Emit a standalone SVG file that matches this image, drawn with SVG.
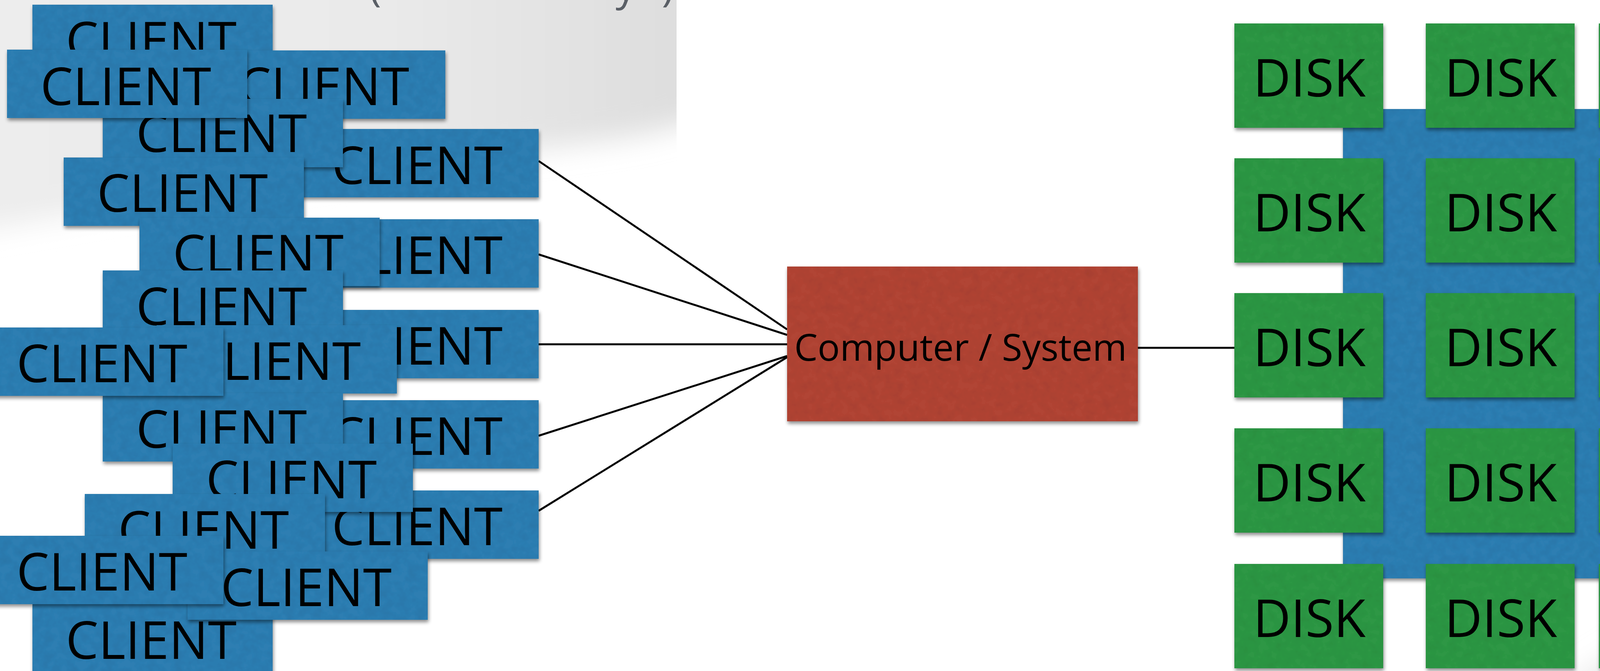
<svg xmlns="http://www.w3.org/2000/svg" width="5007" height="1717" viewBox="0 0 5007 1717">
  <defs>
    <style>
      .client { fill: #2e7eb2; }
      .disk { fill: #2e9744; }
      .cpu { fill: #b14535; }
      .panel { fill: #2e7eb2; }
      .lbl { font-family: "Open Sans", "Noto Sans", "DejaVu Sans", sans-serif; font-size: 133px; fill: #000; text-anchor: middle; }
      .cpulbl { font-family: "Open Sans", "Noto Sans", "DejaVu Sans", sans-serif; font-size: 95px; fill: #000; text-anchor: middle; }
      .title { font-family: "Open Sans", "Noto Sans", "DejaVu Sans", sans-serif; font-size: 105px; fill: #5a5f66; }
      .conn { stroke: #000; stroke-width: 5; fill: none; }
    </style>
    <filter id="card" x="-5%" y="-8%" width="112%" height="125%">
      <feTurbulence type="fractalNoise" baseFrequency="0.045" numOctaves="3" seed="7" result="noise"/>
      <feColorMatrix in="noise" type="matrix" values="0 0 0 0 0  0 0 0 0 0  0 0 0 0 0  0.22 0 0 0 -0.08" result="dark"/>
      <feComposite in="dark" in2="SourceAlpha" operator="in" result="tex"/>
      <feGaussianBlur in="SourceAlpha" stdDeviation="5" result="b"/>
      <feOffset in="b" dx="2" dy="6" result="ob"/>
      <feComponentTransfer in="ob" result="shadow"><feFuncA type="linear" slope="0.45"/></feComponentTransfer>
      <feMerge>
        <feMergeNode in="shadow"/>
        <feMergeNode in="SourceGraphic"/>
        <feMergeNode in="tex"/>
      </feMerge>
    </filter>
    <filter id="blurBig" x="-20%" y="-20%" width="140%" height="140%">
      <feGaussianBlur stdDeviation="35"/>
    </filter>
    <filter id="blurMid" x="-20%" y="-20%" width="140%" height="140%">
      <feGaussianBlur stdDeviation="18"/>
    </filter>
    <linearGradient id="tlGrad" x1="0" y1="0" x2="1" y2="0">
      <stop offset="0" stop-color="#ededed"/>
      <stop offset="0.55" stop-color="#eaeaea"/>
      <stop offset="1" stop-color="#dcdcdc"/>
    </linearGradient>
    <clipPath id="tlClip">
      <rect x="0" y="0" width="1732" height="1717"/>
    </clipPath>
  </defs>

  <rect x="0" y="0" width="5007" height="1717" fill="#ffffff"/>

  <!-- background shading -->
  <g id="background">
    <g clip-path="url(#tlClip)">
      <path d="M-100,-100 H1850 V200 C1850,330 1650,350 1350,385 C950,430 450,500 -100,600 Z" fill="url(#tlGrad)" filter="url(#blurBig)"/>
    </g>
    <path d="M5150,880 L4964,1040 C4800,1200 4650,1330 4470,1460 C4300,1580 4150,1660 3980,1780 L5150,1780 Z" fill="#e7e7e7" filter="url(#blurBig)"/>
    <path d="M4440,1760 L5060,1250" stroke="#d3d3d3" stroke-width="55" fill="none" filter="url(#blurMid)"/>
  </g>

  <g id="title-fragment">
    <text class="title" x="945" y="2">(</text>
    <text class="title" x="1576" y="2">y</text>
    <text class="title" x="1694" y="2">)</text>
  </g>

  <!-- connectors -->
  <g id="connectors">
    <line class="conn" x1="1379" y1="412" x2="2015" y2="843"/>
    <line class="conn" x1="1379" y1="651" x2="2015" y2="857"/>
    <line class="conn" x1="1379" y1="881" x2="2015" y2="881"/>
    <line class="conn" x1="1379" y1="1115" x2="2015" y2="911"/>
    <line class="conn" x1="1379" y1="1307" x2="2015" y2="914"/>
    <line class="conn" x1="2913" y1="890" x2="3160" y2="890"/>
  </g>

  <!-- clients (drawn back to front) -->
  <g id="client-01"><rect class="client" x="83" y="12" width="615" height="175" filter="url(#card)"/><text class="lbl" x="387" y="152">CLIENT</text></g>
  <g id="client-03"><rect class="client" x="525" y="129" width="615" height="175" filter="url(#card)"/><text class="lbl" x="829" y="269">CLIENT</text></g>
  <g id="client-05"><rect class="client" x="764" y="330" width="615" height="175" filter="url(#card)"/><text class="lbl" x="1068" y="471">CLIENT</text></g>
  <g id="client-04"><rect class="client" x="263" y="253" width="615" height="175" filter="url(#card)"/><text class="lbl" x="567" y="389">CLIENT</text></g>
  <g id="client-02"><rect class="client" x="18" y="127" width="615" height="175" filter="url(#card)"/><text class="lbl" x="322" y="269">CLIENT</text></g>
  <g id="client-06"><rect class="client" x="163" y="403" width="615" height="175" filter="url(#card)"/><text class="lbl" x="467" y="542">CLIENT</text></g>
  <g id="client-08"><rect class="client" x="764" y="561" width="615" height="175" filter="url(#card)"/><text class="lbl" x="1068" y="701">CLIENT</text></g>
  <g id="client-07"><rect class="client" x="357" y="557" width="615" height="175" filter="url(#card)"/><text class="lbl" x="661" y="697">CLIENT</text></g>
  <g id="client-10"><rect class="client" x="764" y="793" width="615" height="175" filter="url(#card)"/><text class="lbl" x="1068" y="933">CLIENT</text></g>
  <g id="client-09"><rect class="client" x="263" y="692" width="615" height="175" filter="url(#card)"/><text class="lbl" x="567" y="832">CLIENT</text></g>
  <g id="client-11"><rect class="client" x="401" y="832" width="615" height="175" filter="url(#card)"/><text class="lbl" x="705" y="972">CLIENT</text></g>
  <g id="client-14"><rect class="client" x="764" y="1024" width="615" height="175" filter="url(#card)"/><text class="lbl" x="1068" y="1164">CLIENT</text></g>
  <g id="client-13"><rect class="client" x="263" y="1006" width="615" height="175" filter="url(#card)"/><text class="lbl" x="567" y="1146">CLIENT</text></g>
  <g id="client-12"><rect class="client" x="-43" y="838" width="615" height="175" filter="url(#card)"/><text class="lbl" x="261" y="978">CLIENT</text></g>
  <g id="client-16"><rect class="client" x="764" y="1255" width="615" height="175" filter="url(#card)"/><text class="lbl" x="1068" y="1395">CLIENT</text></g>
  <g id="client-15"><rect class="client" x="442" y="1135" width="615" height="175" filter="url(#card)"/><text class="lbl" x="746" y="1275">CLIENT</text></g>
  <g id="client-17"><rect class="client" x="217" y="1264" width="615" height="175" filter="url(#card)"/><text class="lbl" x="521" y="1404">CLIENT</text></g>
  <g id="client-20"><rect class="client" x="83" y="1546" width="615" height="175" filter="url(#card)"/><text class="lbl" x="387" y="1686">CLIENT</text></g>
  <g id="client-19"><rect class="client" x="480" y="1411" width="615" height="175" filter="url(#card)"/><text class="lbl" x="784" y="1551">CLIENT</text></g>
  <g id="client-18"><rect class="client" x="-43" y="1371" width="615" height="175" filter="url(#card)"/><text class="lbl" x="261" y="1511">CLIENT</text></g>

  <!-- computer -->
  <g id="computer"><rect class="cpu" x="2015" y="682" width="898" height="396" filter="url(#card)"/><text class="cpulbl" x="2459" y="923">Computer / System</text></g>

  <!-- disk backplane -->
  <g id="disk-panel"><rect class="panel" x="3438" y="279" width="1201" height="1201" filter="url(#card)"/></g>

  <!-- disks -->
  <g id="disk-r1c1"><rect class="disk" x="3160" y="60" width="381" height="267" filter="url(#card)"/><text class="lbl" x="3352" y="247">DISK</text></g>
  <g id="disk-r1c2"><rect class="disk" x="3650" y="60" width="381" height="267" filter="url(#card)"/><text class="lbl" x="3842" y="247">DISK</text></g>
  <g id="disk-r1c3"><rect class="disk" x="4093" y="60" width="381" height="267" filter="url(#card)"/><text class="lbl" x="4285" y="247">DISK</text></g>
  <g id="disk-r1c4"><rect class="disk" x="4584" y="60" width="381" height="267" filter="url(#card)"/><text class="lbl" x="4776" y="247">DISK</text></g>

  <g id="disk-r2c1"><rect class="disk" x="3160" y="405" width="381" height="267" filter="url(#card)"/><text class="lbl" x="3352" y="592">DISK</text></g>
  <g id="disk-r2c2"><rect class="disk" x="3650" y="405" width="381" height="267" filter="url(#card)"/><text class="lbl" x="3842" y="592">DISK</text></g>
  <g id="disk-r2c3"><rect class="disk" x="4093" y="405" width="381" height="267" filter="url(#card)"/><text class="lbl" x="4285" y="592">DISK</text></g>
  <g id="disk-r2c4"><rect class="disk" x="4584" y="405" width="381" height="267" filter="url(#card)"/><text class="lbl" x="4776" y="592">DISK</text></g>

  <g id="disk-r3c1"><rect class="disk" x="3160" y="750" width="381" height="267" filter="url(#card)"/><text class="lbl" x="3352" y="937">DISK</text></g>
  <g id="disk-r3c2"><rect class="disk" x="3650" y="750" width="381" height="267" filter="url(#card)"/><text class="lbl" x="3842" y="937">DISK</text></g>
  <g id="disk-r3c3"><rect class="disk" x="4093" y="750" width="381" height="267" filter="url(#card)"/><text class="lbl" x="4285" y="937">DISK</text></g>
  <g id="disk-r3c4"><rect class="disk" x="4584" y="750" width="381" height="267" filter="url(#card)"/><text class="lbl" x="4776" y="937">DISK</text></g>

  <g id="disk-r4c1"><rect class="disk" x="3160" y="1096" width="381" height="267" filter="url(#card)"/><text class="lbl" x="3352" y="1283">DISK</text></g>
  <g id="disk-r4c2"><rect class="disk" x="3650" y="1096" width="381" height="267" filter="url(#card)"/><text class="lbl" x="3842" y="1283">DISK</text></g>
  <g id="disk-r4c3"><rect class="disk" x="4093" y="1096" width="381" height="267" filter="url(#card)"/><text class="lbl" x="4285" y="1283">DISK</text></g>
  <g id="disk-r4c4"><rect class="disk" x="4584" y="1096" width="381" height="267" filter="url(#card)"/><text class="lbl" x="4776" y="1283">DISK</text></g>

  <g id="disk-r5c1"><rect class="disk" x="3160" y="1443" width="381" height="267" filter="url(#card)"/><text class="lbl" x="3352" y="1630">DISK</text></g>
  <g id="disk-r5c2"><rect class="disk" x="3650" y="1443" width="381" height="267" filter="url(#card)"/><text class="lbl" x="3842" y="1630">DISK</text></g>
  <g id="disk-r5c3"><rect class="disk" x="4093" y="1443" width="381" height="267" filter="url(#card)"/><text class="lbl" x="4285" y="1630">DISK</text></g>
  <g id="disk-r5c4"><rect class="disk" x="4584" y="1443" width="381" height="267" filter="url(#card)"/><text class="lbl" x="4776" y="1630">DISK</text></g>
</svg>
